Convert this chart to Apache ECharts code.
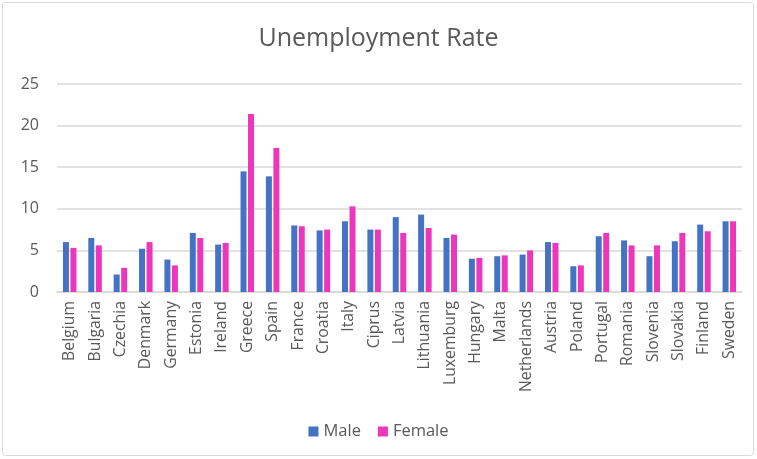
<!DOCTYPE html>
<html><head><meta charset="utf-8">
<script src="https://cdn.jsdelivr.net/npm/echarts@6/dist/echarts.min.js"></script>
<style>html,body{margin:0;padding:0;background:#fff}#c{width:757px;height:459px}</style>
</head><body><div id="c"></div>
<script>
const categories = ["Belgium","Bulgaria","Czechia","Denmark","Germany","Estonia","Ireland","Greece","Spain","France","Croatia","Italy","Ciprus","Latvia","Lithuania","Luxemburg","Hungary","Malta","Netherlands","Austria","Poland","Portugal","Romania","Slovenia","Slovakia","Finland","Sweden"];
const male = [6.0,6.5,2.1,5.2,3.9,7.1,5.7,14.5,13.9,8.0,7.4,8.5,7.5,9.0,9.3,6.5,4.0,4.3,4.5,6.0,3.1,6.7,6.2,4.3,6.1,8.1,8.5];
const female = [5.3,5.6,2.9,6.0,3.2,6.5,5.9,21.4,17.3,7.9,7.5,10.3,7.5,7.1,7.7,6.9,4.1,4.4,5.0,5.9,3.2,7.1,5.6,5.6,7.1,7.3,8.5];
const yTicks = [0,5,10,15,20,25];
const FONT = "'Open Sans', 'Noto Sans', sans-serif";
const chart = echarts.init(document.getElementById('c'));
chart.setOption({
  animation:false,
  textStyle:{fontFamily:FONT},
  title:{text:'Unemployment Rate',left:'center',top:21,textStyle:{fontFamily:FONT,fontSize:25,fontWeight:'normal',color:'#595959'}},
  graphic:[{type:'rect',shape:{x:2.5,y:2.5,width:751,height:453,r:3},style:{fill:'none',stroke:'#d9d9d9',lineWidth:1},silent:true,z:-1}],
  legend:{bottom:14,left:'center',itemWidth:10,itemHeight:10,itemGap:17,icon:'rect',textStyle:{fontFamily:FONT,fontSize:16.5,color:'#595959'},data:['Male','Female']},
  grid:{left:57,right:15,top:84,bottom:167},
  xAxis:{type:'category',data:categories,axisTick:{show:false},axisLine:{lineStyle:{color:'#d9d9d9',width:1.5}},
    axisLabel:{rotate:90,interval:0,fontSize:15.8,color:'#595959',margin:9,fontFamily:FONT}},
  yAxis:{type:'value',min:yTicks[0],max:yTicks[yTicks.length-1],interval:5,axisLine:{show:false},axisTick:{show:false},
    splitLine:{lineStyle:{color:'#d9d9d9',width:1.5}},axisLabel:{fontSize:16,color:'#595959',margin:18,fontFamily:FONT}},
  series:[
    {name:'Male',type:'bar',data:male,barWidth:6,barGap:'25%',itemStyle:{color:'#4472C4'}},
    {name:'Female',type:'bar',data:female,barWidth:6,itemStyle:{color:'#EC36BB'}}
  ]
});
</script></body></html>
